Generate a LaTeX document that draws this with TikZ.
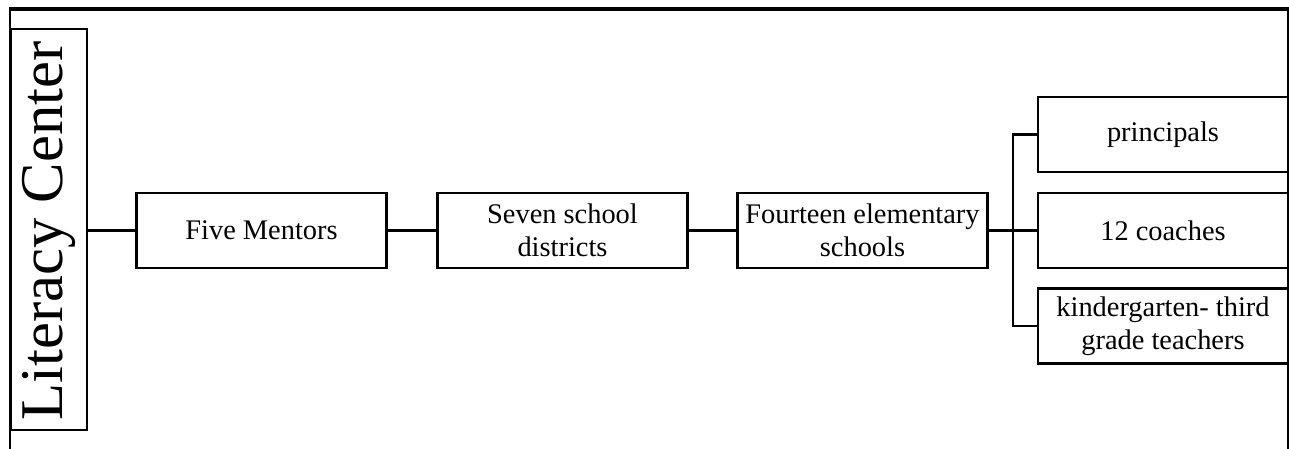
\documentclass[tikz,border=0pt]{standalone}
\usepackage{fontspec}
\setmainfont{Liberation Serif}
\begin{document}
\begin{tikzpicture}[x=0.75pt,y=-0.75pt,
  box/.style={draw,line width=1.6pt,minimum width=187.5pt,minimum height=56.25pt,
    inner sep=0pt,align=center,font=\fontsize{21.3}{24.5}\selectfont},
  link/.style={line width=1.7pt},
  frame/.style={line width=1.6pt}]
\useasboundingbox (0,0) rectangle (1289,449);
% page frame
\draw[line width=2.4pt] (9,9) -- (1289,9);
\draw[frame] (10,9) -- (10,449);
\draw[frame] (1288,9) -- (1288,449);
% vertical title block
\node[draw,line width=1.5pt,minimum width=57pt,minimum height=300.75pt,inner sep=0pt,fill=white]
  (lit) at (49,229.5) {};
\node[rotate=90,font=\fontsize{45.5}{52}\selectfont,inner sep=0pt] at (49,231) {Literacy Center};
% chain of boxes
\node[box] (five) at (261.5,230.5) {Five Mentors};
\node[box] (seven) at (562.5,230.5) {Seven school\\districts};
\node[box] (four) at (862.5,230.5) {Fourteen elementary\\schools};
\node[box,fill=white] (prin) at (1163,134.5) {principals};
\node[box,fill=white] (coach) at (1163,230.5) {12 coaches};
\node[box,fill=white] (teach) at (1163,326) {kindergarten- third\\grade teachers};
\coordinate (bus) at (1013,230.5);
% connectors
\draw[link] (lit.east |- five.west) -- (five.west);
\draw[link] (five.east) -- (seven.west);
\draw[link] (seven.east) -- (four.west);
\draw[link] (four.east) -- (coach.west);
\draw[link] (prin.west) -| (bus) |- (teach.west);
\end{tikzpicture}
\end{document}
